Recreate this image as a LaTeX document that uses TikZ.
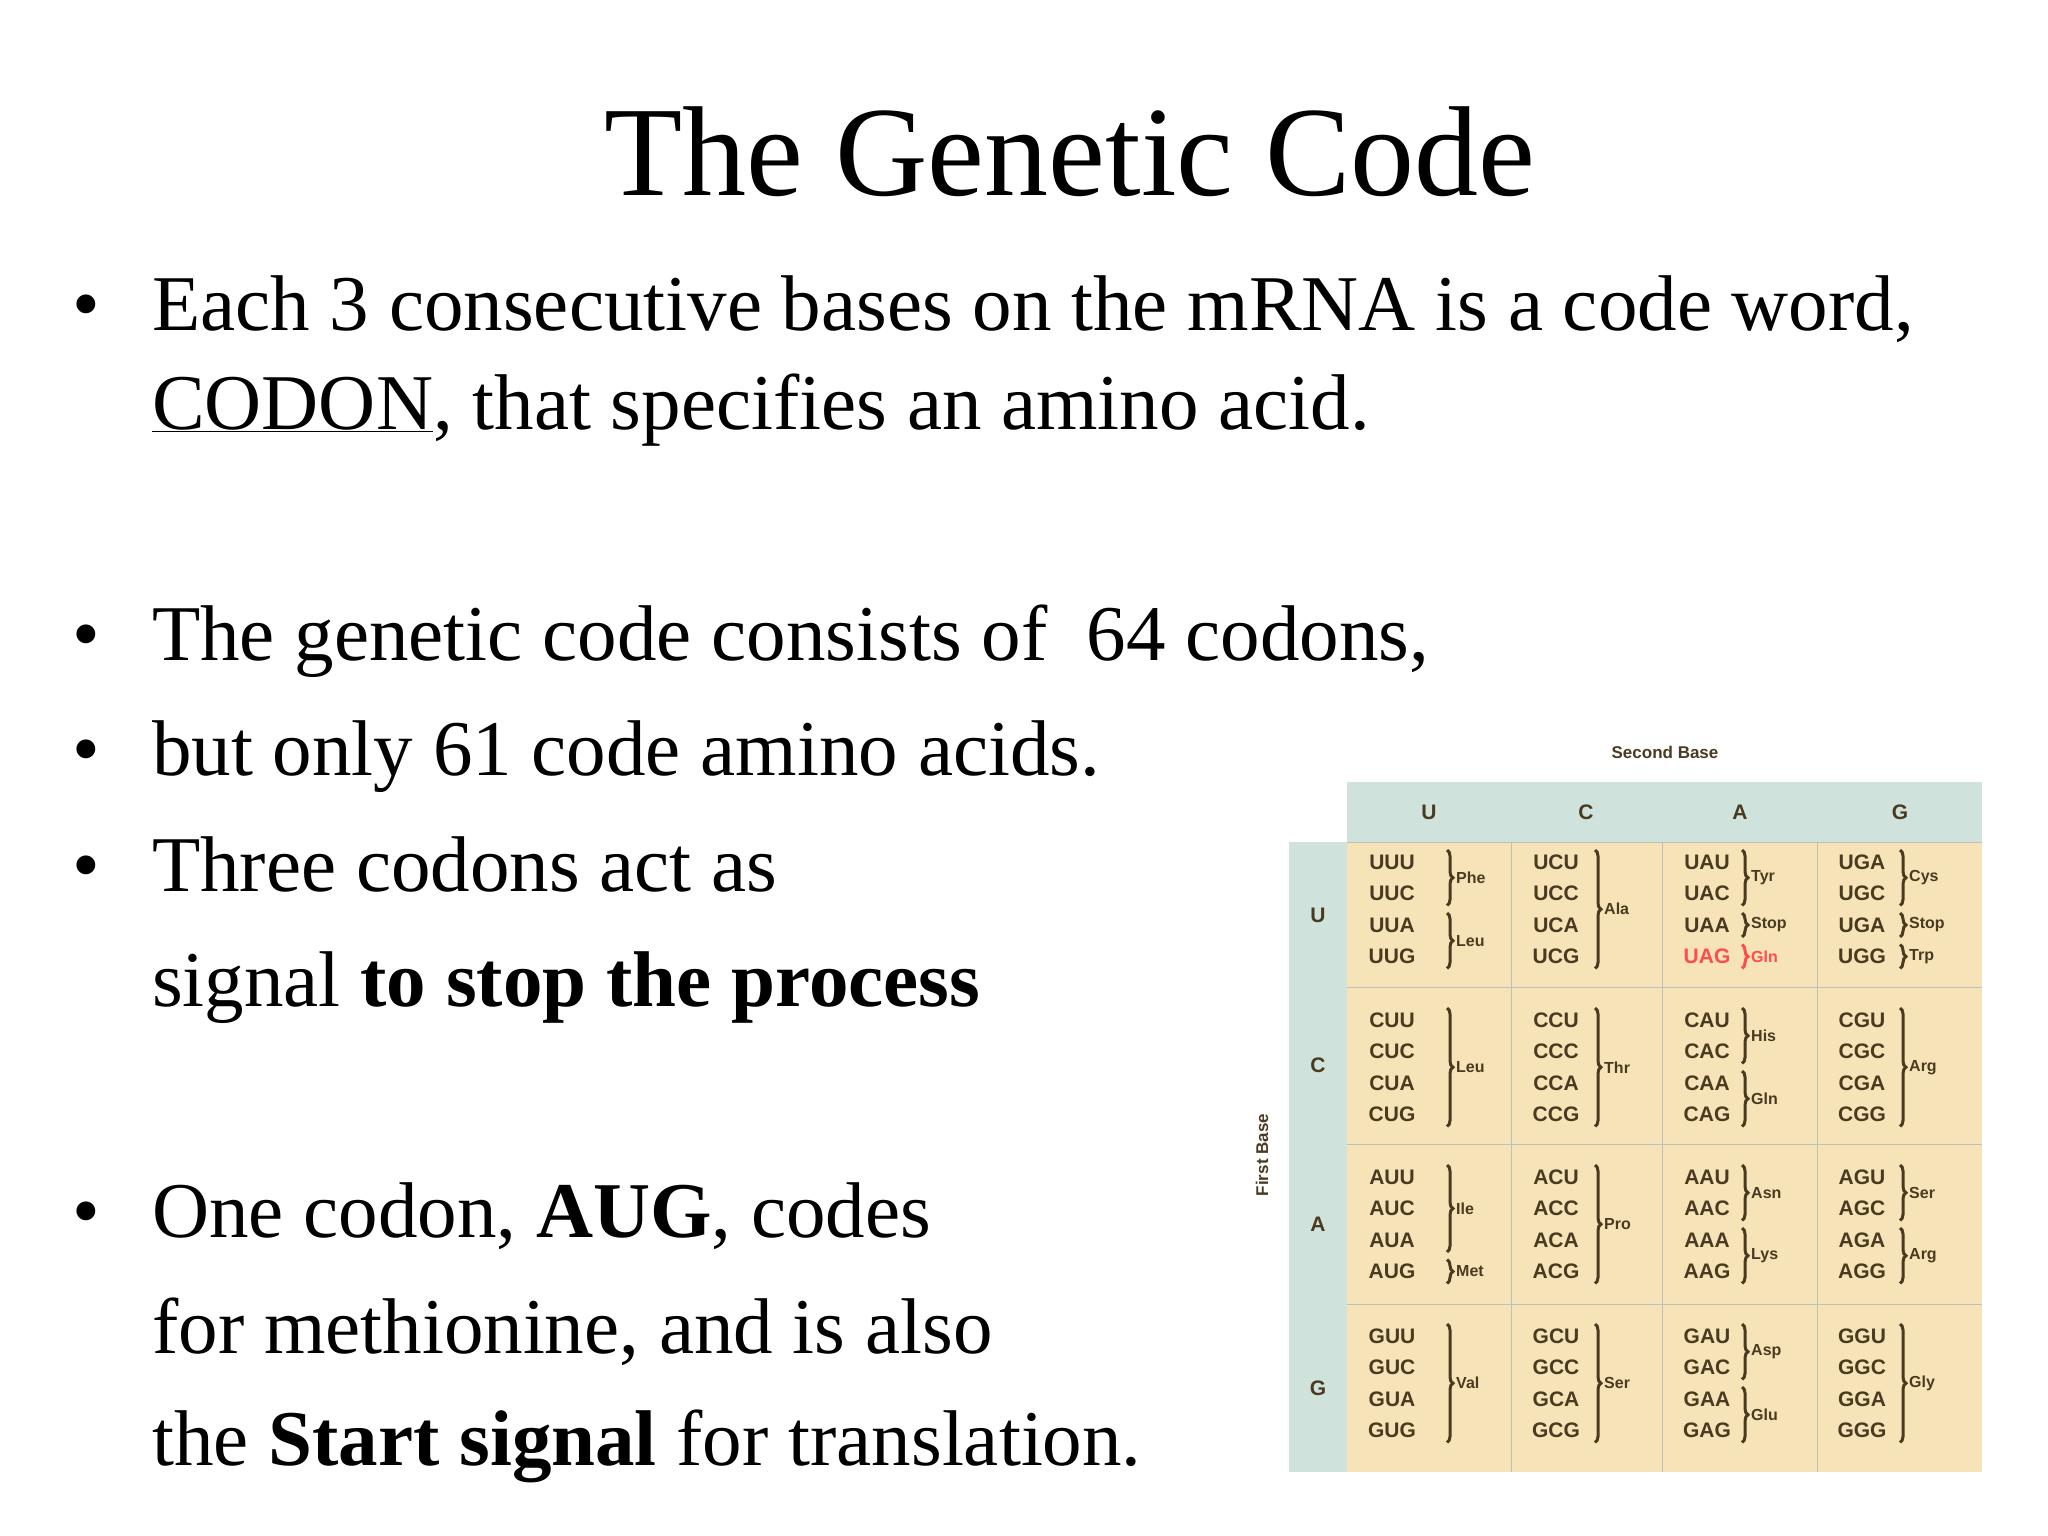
\documentclass[tikz,border=0pt]{standalone}
\usepackage{fontspec}
\setmainfont{Liberation Serif}
\newfontfamily\tabfont{Liberation Sans}
\usetikzlibrary{decorations.pathreplacing}
\definecolor{cellfill}{HTML}{F6E4B8}
\definecolor{headfill}{HTML}{CFE3DC}
\definecolor{codink}{HTML}{4A3A20}
\tikzset{
  txt/.style = {anchor=base west, inner sep=0pt, font=\fontsize{79}{96}\selectfont},
  blt/.style = {anchor=base west, inner sep=0pt, font=\fontsize{79}{96}\selectfont},
  cod/.style = {inner sep=0pt, text=codink, font=\tabfont\bfseries\fontsize{21}{24}\selectfont},
  aa/.style  = {anchor=west, inner sep=0pt, text=codink, font=\tabfont\bfseries\fontsize{16}{18}\selectfont},
  brc/.style = {draw=codink, line width=3pt, decorate, decoration={brace, amplitude=6pt}},
  grid/.style = {draw=black!25, line width=1pt}
}
% codon lines of one cell: col left x, first line y
\newcommand{\codons}[5]{%
  \foreach \c [count=\k from 0] in {#3} {
    \node[cod] at (#1+45, #2+31.5*\k) {\c};
  }}
% brace group: col left x, brace offset, first line y, from, to, name
\newcommand{\grp}[7][codink]{%
  \draw[brc, draw=#1] (#2+#3, #4+31.5*#5-12) -- (#2+#3, #4+31.5*#6+12);
  \node[aa, text=#1] at (#2+#3+9, #4+31.5*#5/2+31.5*#6/2) {#7};}
\begin{document}
\begin{tikzpicture}[x=1pt, y=-1pt]
  \useasboundingbox (0,0) rectangle (2048,1536);
  \fill[white] (0,0) rectangle (2048,1536);

  \node[inner sep=0pt, font=\fontsize{128}{150}\selectfont] (title) at (1070,152) {The Genetic Code};

  \node[blt] (b1) at (72,330) {•};
  \node[txt] (l1) at (152,330) {Each 3 consecutive bases on the mRNA is a code word,};
  \node[txt] (l2) at (152,429) {\underline{CODON}, that specifies an amino acid.};
  \node[blt] (b2) at (72,660) {•};
  \node[txt] (l3) at (152,660) {The genetic code consists of ~64 codons,};
  \node[blt] (b3) at (72,775) {•};
  \node[txt] (l4) at (152,775) {but only 61 code amino acids.};
  \node[blt] (b4) at (72,891) {•};
  \node[txt] (l5) at (152,891) {Three codons act as};
  \node[txt] (l6) at (152,1006) {signal \textbf{to stop the process}};
  \node[blt] (b5) at (72,1237) {•};
  \node[txt] (l7) at (152,1237) {One codon, \textbf{AUG}, codes};
  \node[txt] (l8) at (152,1353) {for methionine, and is also};
  \node[txt] (l9) at (152,1465) {the \textbf{Start signal} for translation.};

  % table
  \fill[headfill] (1347,782) rectangle (1982,842);
  \fill[headfill] (1289,842) rectangle (1347,1472);
  \fill[cellfill] (1347,842) rectangle (1982,1472);
  \foreach \x in {1511,1662,1817} \draw[grid] (\x,842) -- (\x,1472);
  \foreach \y in {987,1144,1304} \draw[grid] (1347,\y) -- (1982,\y);
  \draw[grid] (1347,842) -- (1982,842);
  \node[cod, font=\tabfont\bfseries\fontsize{17}{20}\selectfont] (second) at (1665,752) {Second Base};
  \node[cod, font=\tabfont\bfseries\fontsize{17}{20}\selectfont, rotate=90] (first) at (1262,1155) {First Base};
  \foreach \b/\x in {U/1429,C/1586,A/1740,G/1900}
    \node[cod] at (\x,812) {\b};
  \foreach \b/\y in {U/915,C/1065,A/1224,G/1388}
    \node[cod] at (1318,\y) {\b};

  % row U
  \codons{1347}{862}{UUU,UUC,UUA,UUG}{}{}
  \grp{1347}{100}{862}{0}{1}{Phe}
  \grp{1347}{100}{862}{2}{3}{Leu}
  \codons{1511}{862}{UCU,UCC,UCA,UCG}{}{}
  \grp{1511}{84}{862}{0}{3}{Ala}
  \codons{1662}{862}{UAU,UAC,UAA}{}{}
  \node[cod, text=red!70] at (1662+45,862+94.5) {UAG};
  \grp{1662}{80}{862}{0}{1}{Tyr}
  \grp{1662}{80}{862}{2}{2}{Stop}
  \grp[red!70]{1662}{80}{862}{3}{3}{Gln}
  \codons{1817}{862}{UGA,UGC,UGA,UGG}{}{}
  \grp{1817}{83}{862}{0}{1}{Cys}
  \grp{1817}{83}{862}{2}{2}{Stop}
  \grp{1817}{83}{862}{3}{3}{Trp}
  % row C
  \codons{1347}{1020}{CUU,CUC,CUA,CUG}{}{}
  \grp{1347}{100}{1020}{0}{3}{Leu}
  \codons{1511}{1020}{CCU,CCC,CCA,CCG}{}{}
  \grp{1511}{84}{1020}{0}{3}{Thr}
  \codons{1662}{1020}{CAU,CAC,CAA,CAG}{}{}
  \grp{1662}{80}{1020}{0}{1}{His}
  \grp{1662}{80}{1020}{2}{3}{Gln}
  \codons{1817}{1020}{CGU,CGC,CGA,CGG}{}{}
  \grp{1817}{83}{1020}{0}{3}{Arg}
  % row A
  \codons{1347}{1177}{AUU,AUC,AUA,AUG}{}{}
  \grp{1347}{100}{1177}{0}{2}{Ile}
  \grp{1347}{100}{1177}{3}{3}{Met}
  \codons{1511}{1177}{ACU,ACC,ACA,ACG}{}{}
  \grp{1511}{84}{1177}{0}{3}{Pro}
  \codons{1662}{1177}{AAU,AAC,AAA,AAG}{}{}
  \grp{1662}{80}{1177}{0}{1}{Asn}
  \grp{1662}{80}{1177}{2}{3}{Lys}
  \codons{1817}{1177}{AGU,AGC,AGA,AGG}{}{}
  \grp{1817}{83}{1177}{0}{1}{Ser}
  \grp{1817}{83}{1177}{2}{3}{Arg}
  % row G
  \codons{1347}{1336}{GUU,GUC,GUA,GUG}{}{}
  \grp{1347}{100}{1336}{0}{3}{Val}
  \codons{1511}{1336}{GCU,GCC,GCA,GCG}{}{}
  \grp{1511}{84}{1336}{0}{3}{Ser}
  \codons{1662}{1336}{GAU,GAC,GAA,GAG}{}{}
  \grp{1662}{80}{1336}{0}{1}{Asp}
  \grp{1662}{80}{1336}{2}{3}{Glu}
  \codons{1817}{1336}{GGU,GGC,GGA,GGG}{}{}
  \grp{1817}{83}{1336}{0}{3}{Gly}
\end{tikzpicture}
\end{document}
